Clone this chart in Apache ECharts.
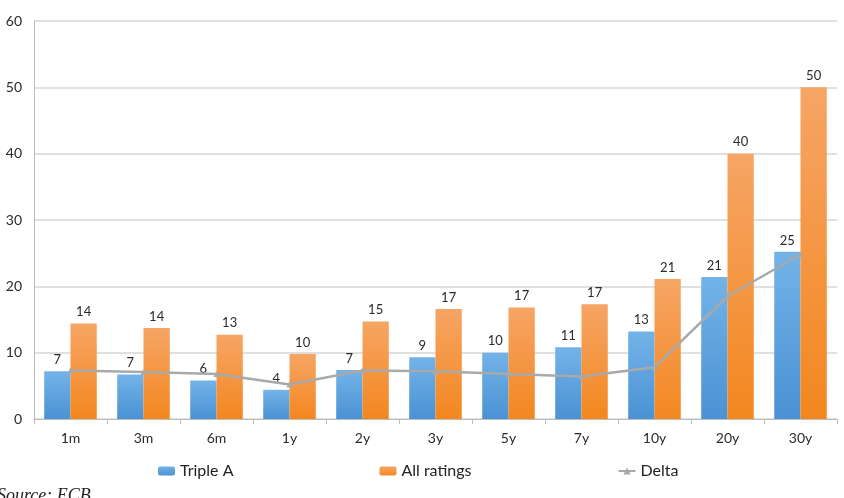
<!DOCTYPE html>
<html>
<head>
<meta charset="utf-8">
<script src="https://cdn.jsdelivr.net/npm/echarts@6/dist/echarts.min.js"></script>
<style>
  html, body { margin: 0; padding: 0; background: #fff; }
  #chart { width: 844px; height: 498px; }
</style>
</head>
<body>
<div id="chart"></div>
<script>
// data
var maturities = ['1m', '3m', '6m', '1y', '2y', '3y', '5y', '7y', '10y', '20y', '30y']
var tripleA = [7.2, 6.7, 5.8, 4.4, 7.4, 9.3, 10.0, 10.8, 13.2, 21.4, 25.2]
var allRatings = [14.4, 13.7, 12.7, 9.8, 14.7, 16.6, 16.8, 17.3, 21.1, 40.0, 50.0]
var delta = [7.3, 7.1, 6.8, 5.2, 7.3, 7.2, 6.8, 6.4, 7.8, 18.5, 24.8]
var yTicks = [0, 10, 20, 30, 40, 50, 60]

var fontFam = 'Lato, "Open Sans", sans-serif'
var chart = echarts.init(document.getElementById('chart'))

function grad(top, bottom) {
  return new echarts.graphic.LinearGradient(0, 0, 0, 1, [
    { offset: 0, color: top },
    { offset: 1, color: bottom },
  ])
}

var barLabel = {
  show: true,
  position: 'top',
  distance: 5,
  color: '#2a2a2a',
  fontSize: 13,
  fontFamily: fontFam,
  formatter: function (p) {
    return Math.round(p.value)
  },
}

var option = {
  animation: false,
  textStyle: { fontFamily: fontFam },
  grid: { left: 34, right: 7, top: 21, bottom: 79, containLabel: false },
  legend: {
    left: 153,
    top: 458,
    itemGap: 146,
    itemWidth: 17,
    itemHeight: 9,
    textStyle: { fontSize: 16, color: '#222', fontFamily: fontFam },
    data: ['Triple A', 'All ratings', 'Delta'],
  },
  xAxis: {
    type: 'category',
    data: maturities,
    axisLine: { lineStyle: { color: '#bcbcbc', width: 1 } },
    axisTick: { show: true, length: 5, lineStyle: { color: '#bcbcbc' } },
    axisLabel: { color: '#2a2a2a', fontSize: 14, margin: 12 },
  },
  yAxis: {
    type: 'value',
    min: yTicks[0],
    max: yTicks[yTicks.length - 1],
    interval: 10,
    axisLine: { show: true, lineStyle: { color: '#bcbcbc', width: 1 } },
    axisTick: { show: false },
    axisLabel: { color: '#2a2a2a', fontSize: 14, margin: 12 },
    splitLine: { lineStyle: { color: '#d6d6d6', width: 1.5 } },
  },
  series: [
    {
      name: 'Triple A',
      type: 'bar',
      data: tripleA,
      barGap: '0%',
      barCategoryGap: '28%',
      itemStyle: { color: grad('#73b3e8', '#4a92d4') },
      label: barLabel,
    },
    {
      name: 'All ratings',
      type: 'bar',
      data: allRatings,
      barGap: '0%',
      barCategoryGap: '28%',
      itemStyle: { color: grad('#f6a565', '#f3871f') },
      label: barLabel,
    },
    {
      name: 'Delta',
      type: 'line',
      data: delta,
      symbol: 'triangle',
      symbolSize: 6,
      lineStyle: { color: '#a9a9a9', width: 2.5 },
      itemStyle: { color: '#a9a9a9' },
      z: 5,
    },
  ],
  graphic: [
    {
      type: 'text',
      left: -3,
      top: 487,
      style: {
        text: 'Source: ECB.',
        fontFamily: '"Liberation Serif", "DejaVu Serif", serif',
        fontStyle: 'italic',
        fontSize: 18,
        fill: '#222',
      },
    },
  ],
}

chart.setOption(option)
</script>
</body>
</html>
